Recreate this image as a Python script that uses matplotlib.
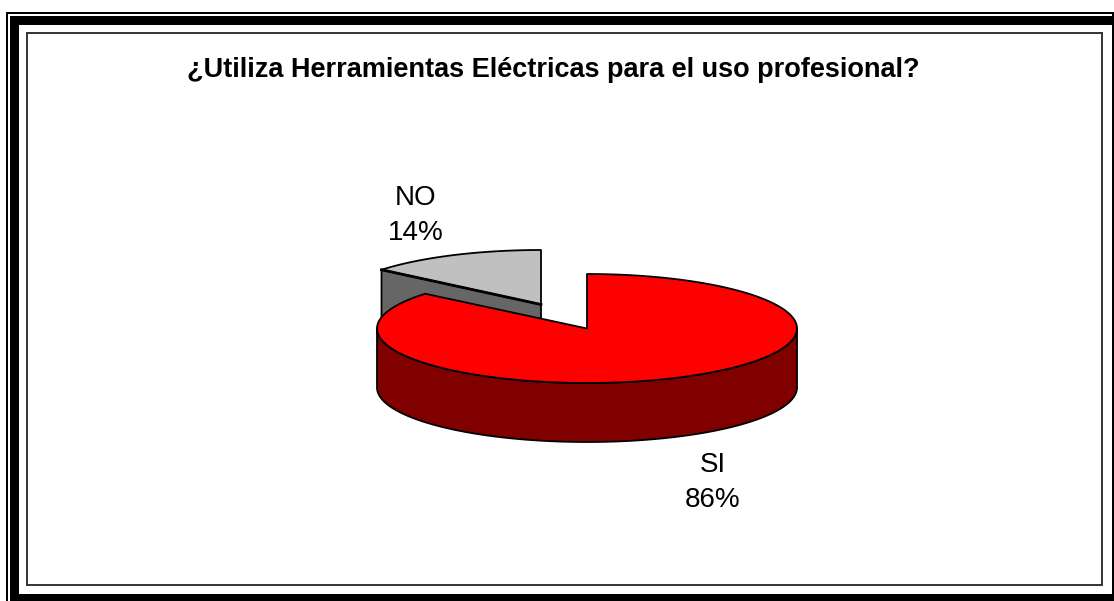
import numpy as np
import matplotlib
matplotlib.use('Agg')
import matplotlib.pyplot as plt
from matplotlib.patches import Polygon, Rectangle

# ── data ─────────────────────────────────────────────────────────────────────
labels = ['SI', 'NO']
values = [86, 14]
title = '¿Utiliza Herramientas Eléctricas para el uso profesional?'

RED = '#FF0000'
RED_DARK = '#800000'
GRAY = '#C0C0C0'
GRAY_DARK = '#666666'

plt.rcParams['font.family'] = ['Liberation Sans', 'DejaVu Sans']

# one axes unit = one pixel, y pointing down
fig = plt.figure(figsize=(11.14, 6.01), dpi=100)
ax = fig.add_axes([0, 0, 1, 1])
ax.set_xlim(0, 1114)
ax.set_ylim(601, 0)
ax.axis('off')


def box(x0, y0, x1, y1, color='k'):
    ax.add_patch(Rectangle((x0, y0), x1 - x0, y1 - y0, fc=color, ec='none'))


# ── frame ────────────────────────────────────────────────────────────────────
box(6, 12, 1114, 14)      # thin outer top
box(6, 12, 8, 601)        # thin outer left
box(1112, 12, 1114, 601)  # thin outer right
box(10, 16, 1113, 25)     # thick top
box(10, 16, 19, 601)      # thick left
box(10, 594, 1113, 601)   # thick bottom
ax.add_patch(Rectangle((27, 33), 1075, 552, fc='w', ec='#333333', lw=1.4, zorder=2))

# ── 3d pie ───────────────────────────────────────────────────────────────────
RX, RY, DEPTH = 210, 54.5, 59
LW = 1.3


def rim(cx, cy, a0, a1, rx=RX, n=200):
    # clock angles in degrees, clockwise from 12 o'clock
    a = np.radians(np.linspace(a0, a1, n))
    return np.column_stack([cx + rx * np.sin(a), cy - RY * np.cos(a)])


def draw(pts, color, z):
    ax.add_patch(Polygon(pts, closed=True, fc=color, ec='k', lw=LW, joinstyle='round', zorder=z))


split = 360 * values[0] / sum(values)

# NO slice, pulled out to the upper left
no_c = (541, 304.5)
no_rim = rim(no_c[0], no_c[1], split, 360, rx=207)
wall = np.array([no_c, no_rim[0], no_rim[0] + [0, DEPTH], np.add(no_c, [0, DEPTH])])
draw(wall, GRAY_DARK, 3)
draw(np.vstack([no_c, no_rim]), GRAY, 3.1)
ax.plot([no_c[0], no_rim[0, 0]], [no_c[1], no_rim[0, 1]], color='k', lw=2, zorder=3.2)

# SI slice
si_c = (587, 328.5)
si_rim = rim(si_c[0], si_c[1], 0, split)
front = rim(si_c[0], si_c[1], 90, min(270, split))
draw(np.vstack([front, front[::-1] + [0, DEPTH]]), RED_DARK, 4)
draw(np.vstack([si_c, si_rim]), RED, 4.1)

# ── text ─────────────────────────────────────────────────────────────────────
ax.text(553, 77, title, fontsize=19.5, fontweight='bold', ha='center', va='baseline', zorder=5)
label_pos = [(712.5, 472), (416, 205)]
for lab, val, (x, y) in zip(labels, values, label_pos):
    ax.text(x, y, lab, fontsize=20, ha='center', va='baseline', zorder=5)
    ax.text(x, y + 35, f'{val}%', fontsize=20, ha='center', va='baseline', zorder=5)

plt.savefig('out.png', dpi=100)
plt.close()
